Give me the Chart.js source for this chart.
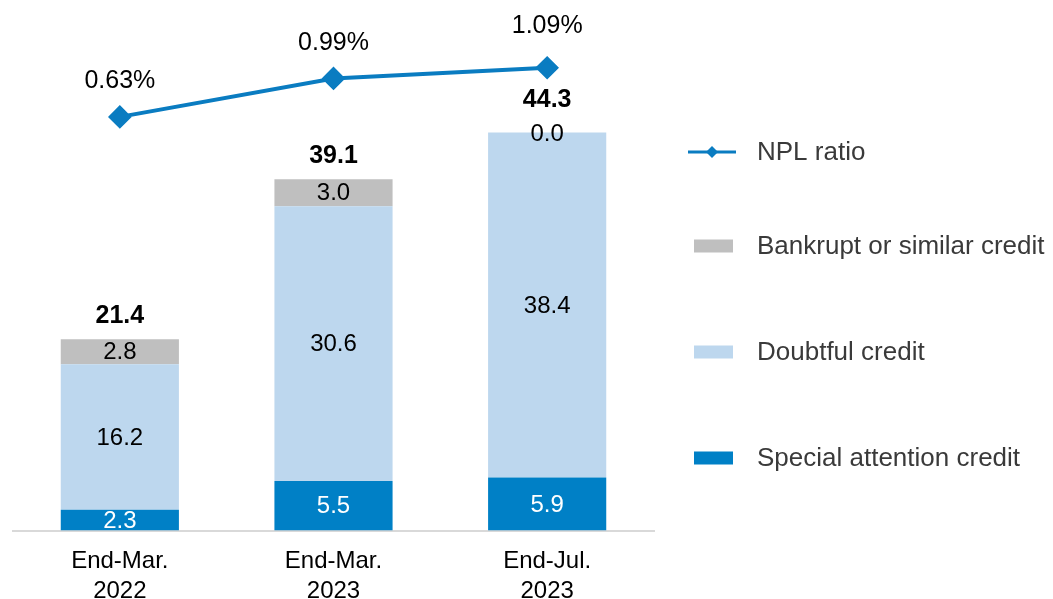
<!DOCTYPE html>
<html>
<head>
<meta charset="utf-8">
<script src="https://cdn.jsdelivr.net/npm/chart.js@4.4.1/dist/chart.umd.min.js"></script>
<style>
  html, body { margin: 0; padding: 0; background: #fff; }
  #wrap { width: 1053px; height: 599px; position: relative; }
</style>
</head>
<body>
<div id="wrap"><canvas id="chart"></canvas></div>
<script>
  const categories = [['End-Mar.', '2022'], ['End-Mar.', '2023'], ['End-Jul.', '2023']];
  const specialAttention = [2.3, 5.5, 5.9];
  const doubtful = [16.2, 30.6, 38.4];
  const bankrupt = [2.8, 3.0, 0.0];
  const totals = [21.4, 39.1, 44.3];
  const nplRatio = [0.63, 0.99, 1.09];

  const FONT = '"Liberation Sans", Arial, sans-serif';
  const COLORS = {
    special: '#0080c6',
    doubtful: '#bdd7ee',
    bankrupt: '#bfbfbf',
    line: '#0a7cc1',
    text: '#000000',
    legend: '#3a3a3a',
    axis: '#d9d9d9',
  };

  // labels inside the bars, totals above and the percentage labels on the line
  const valueLabels = {
    id: 'valueLabels',
    afterDatasetsDraw(chart) {
      const ctx = chart.ctx;
      const area = chart.chartArea;
      ctx.save();
      ctx.textAlign = 'center';
      ctx.textBaseline = 'middle';

      ctx.save();
      ctx.beginPath();
      ctx.rect(area.left, area.top - 20, area.right - area.left, area.bottom - area.top + 20);
      ctx.clip();
      ctx.font = '24px ' + FONT;
      chart.data.datasets.forEach((ds, di) => {
        if (ds.type !== 'bar') return;
        const meta = chart.getDatasetMeta(di);
        meta.data.forEach((el, i) => {
          const v = ds.data[i];
          const y = v === 0 ? el.y + 2 : (el.y + el.base) / 2 + 1;
          ctx.fillStyle = ds.labelColor;
          ctx.fillText(v.toFixed(1), el.x, y);
        });
      });
      ctx.restore();

      // totals
      ctx.font = 'bold 25px ' + FONT;
      ctx.fillStyle = COLORS.text;
      const topMeta = chart.getDatasetMeta(3);
      topMeta.data.forEach((el, i) => {
        const lift = bankrupt[i] === 0 ? 32 : 23;
        ctx.fillText(totals[i].toFixed(1), el.x, el.y - lift);
      });

      // NPL ratio labels
      ctx.font = '25px ' + FONT;
      const lineMeta = chart.getDatasetMeta(0);
      const lifts = [36, 35, 42];
      lineMeta.data.forEach((el, i) => {
        ctx.fillText(nplRatio[i].toFixed(2) + '%', el.x, el.y - lifts[i]);
      });
      ctx.restore();
    },
  };

  // legend drawn to the right of the plot
  const sideLegend = {
    id: 'sideLegend',
    afterDraw(chart) {
      const ctx = chart.ctx;
      const rows = [
        { label: 'NPL ratio', kind: 'line', color: COLORS.line, y: 152 },
        { label: 'Bankrupt or similar credit', kind: 'box', color: COLORS.bankrupt, y: 246 },
        { label: 'Doubtful credit', kind: 'box', color: COLORS.doubtful, y: 352 },
        { label: 'Special attention credit', kind: 'box', color: COLORS.special, y: 458 },
      ];
      ctx.save();
      ctx.font = '26px ' + FONT;
      ctx.textAlign = 'left';
      ctx.textBaseline = 'middle';
      rows.forEach((r) => {
        if (r.kind === 'line') {
          ctx.strokeStyle = r.color;
          ctx.lineWidth = 3;
          ctx.beginPath();
          ctx.moveTo(688, r.y);
          ctx.lineTo(736, r.y);
          ctx.stroke();
          ctx.fillStyle = r.color;
          ctx.beginPath();
          ctx.moveTo(712, r.y - 6);
          ctx.lineTo(718, r.y);
          ctx.lineTo(712, r.y + 6);
          ctx.lineTo(706, r.y);
          ctx.closePath();
          ctx.fill();
        } else {
          ctx.fillStyle = r.color;
          ctx.fillRect(694, r.y - 6.5, 39, 13);
        }
        ctx.fillStyle = COLORS.legend;
        ctx.fillText(r.label, 757, r.y + 1);
      });
      ctx.restore();
    },
  };

  new Chart(document.getElementById('chart'), {
    data: {
      labels: categories,
      datasets: [
        {
          type: 'line',
          label: 'NPL ratio',
          data: nplRatio,
          yAxisID: 'y1',
          borderColor: COLORS.line,
          backgroundColor: COLORS.line,
          borderWidth: 4,
          pointStyle: 'rectRot',
          pointRadius: 9,
          pointHoverRadius: 9,
          order: 0,
        },
        { type: 'bar', label: 'Special attention credit', data: specialAttention, backgroundColor: COLORS.special, labelColor: '#ffffff', order: 1 },
        { type: 'bar', label: 'Doubtful credit', data: doubtful, backgroundColor: COLORS.doubtful, labelColor: COLORS.text, order: 1 },
        { type: 'bar', label: 'Bankrupt or similar credit', data: bankrupt, backgroundColor: COLORS.bankrupt, labelColor: COLORS.text, order: 1 },
      ],
    },
    options: {
      responsive: true,
      maintainAspectRatio: false,
      animation: false,
      layout: { padding: { left: 13, right: 399, top: 0, bottom: 0 } },
      datasets: { bar: { categoryPercentage: 1, barPercentage: 0.553, borderWidth: 0 } },
      plugins: { legend: { display: false }, tooltip: { enabled: false } },
      scales: {
        x: {
          stacked: true,
          grid: { display: false, drawTicks: false },
          border: { display: true, color: COLORS.axis, width: 2 },
          ticks: { color: COLORS.text, padding: 15.5, font: { family: FONT, size: 24, lineHeight: 1.25 } },
          afterFit(scale) { scale.height = 68.5; },
        },
        y: { stacked: true, display: false, min: 0, max: 57.6 },
        y1: { display: false, min: -3.24, max: 1.602 },
      },
    },
    plugins: [valueLabels, sideLegend],
  });
</script>
</body>
</html>
